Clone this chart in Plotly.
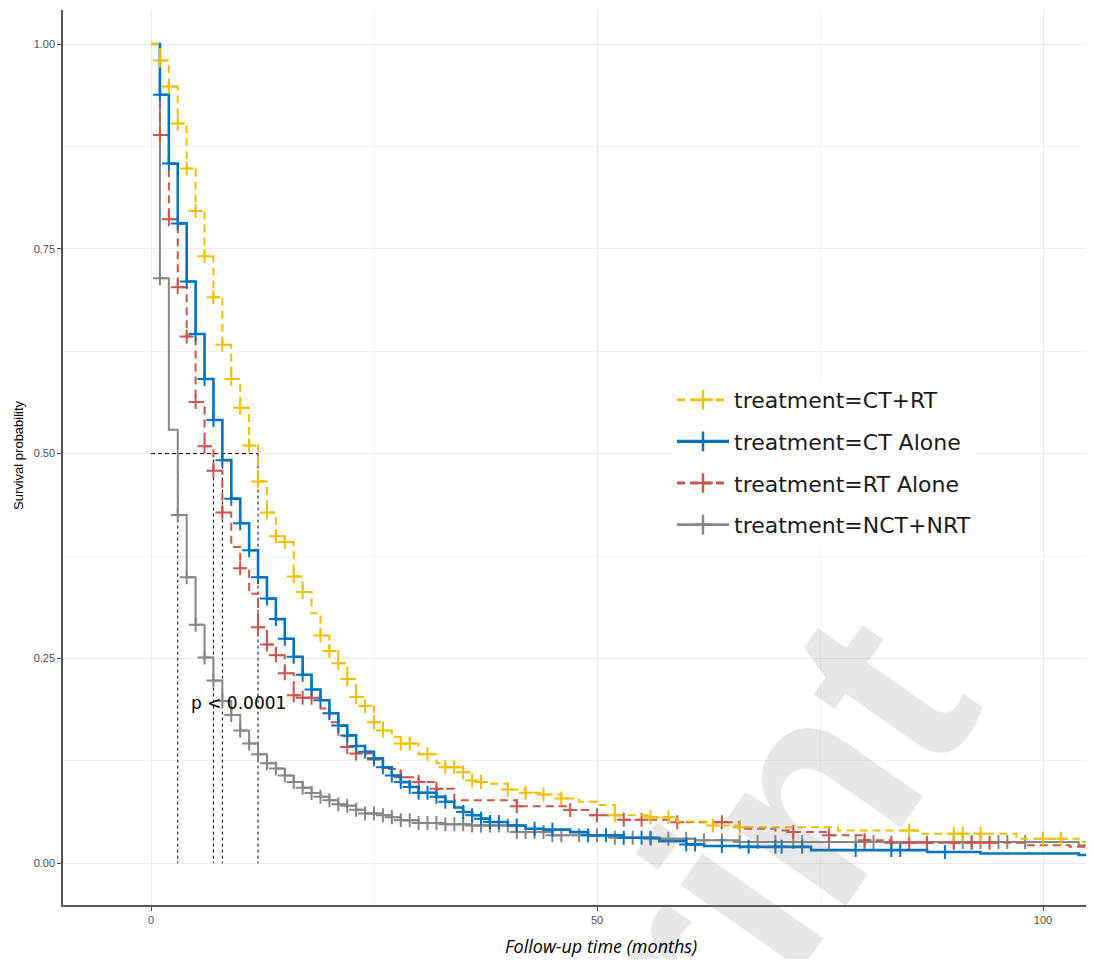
import numpy as np
import plotly.graph_objects as go

# ---------------- data ----------------
names = ["treatment=CT+RT", "treatment=CT Alone", "treatment=RT Alone", "treatment=NCT+NRT"]

ctrt_t = [0, 1, 2, 3, 4, 5, 6, 7, 8, 9, 10, 11, 12, 13, 14, 15, 16, 17, 18, 19, 20, 21, 22, 23,
          24, 25, 26, 27, 28, 30, 32, 33, 35, 36, 37, 38, 40, 42, 44, 46, 48, 50, 52, 56, 59, 63,
          66, 77, 86, 97, 104]
ctrt_s = [1.0, 0.98, 0.948, 0.903, 0.848, 0.796, 0.741, 0.691, 0.633, 0.591, 0.556, 0.510, 0.466,
          0.428, 0.399, 0.392, 0.350, 0.331, 0.305, 0.278, 0.259, 0.244, 0.225, 0.203, 0.192, 0.172,
          0.162, 0.154, 0.146, 0.133, 0.122, 0.117, 0.111, 0.101, 0.099, 0.097, 0.090, 0.086, 0.084,
          0.079, 0.075, 0.071, 0.0586, 0.056, 0.051, 0.046, 0.044, 0.040, 0.036, 0.030, 0.026]
ctrt_cens = [1, 2, 3, 4, 5, 6, 7, 8, 9, 10, 11, 12, 13, 14, 15, 16, 17, 19, 20, 21, 22, 23, 24, 25,
             26, 28, 29, 31, 33, 34, 35, 36, 37, 40, 42, 44, 46, 52, 56, 58, 63, 66, 85, 90, 91, 93,
             100, 102]

cta_t = [0, 1, 2, 3, 4, 5, 6, 7, 8, 9, 10, 11, 12, 13, 14, 15, 16, 17, 18, 19, 20, 21, 22, 23, 24,
         25, 26, 27, 28, 29, 30, 32, 33, 34, 35, 36, 37, 38, 40, 42, 44, 47, 49, 53, 57, 60, 62,
         66, 74, 87, 93, 104]
cta_s = [1.0, 0.938, 0.854, 0.781, 0.710, 0.646, 0.591, 0.541, 0.492, 0.445, 0.415, 0.382, 0.349,
         0.323, 0.298, 0.274, 0.252, 0.230, 0.212, 0.199, 0.183, 0.168, 0.156, 0.143, 0.136, 0.128,
         0.117, 0.107, 0.099, 0.093, 0.086, 0.081, 0.075, 0.068, 0.0625, 0.0586, 0.0544, 0.0503,
         0.046, 0.042, 0.041, 0.038, 0.034, 0.031, 0.027, 0.023, 0.021, 0.020, 0.016, 0.0137,
         0.0118, 0.010]
cta_cens = [1, 2, 3, 4, 5, 6, 7, 8, 9, 10, 11, 12, 13, 14, 15, 16, 17, 18, 19, 20, 21, 22, 23, 24,
            25, 26, 27, 28, 29, 30, 31, 32, 33, 35, 36, 37, 38, 39, 41, 43, 45, 49, 51, 53, 55, 56,
            60, 61, 64, 67, 70, 70.7, 73, 79, 83, 84, 89]

rta_t = [0, 1, 2, 3, 4, 5, 6, 7, 8, 9, 10, 11, 12, 13, 14, 15, 16, 17, 19, 20, 21, 22, 23, 25, 26,
         28, 30, 32, 34, 41, 47, 49, 53, 59, 66, 70, 72, 76, 80, 83, 98, 103]
rta_s = [1.0, 0.889, 0.786, 0.703, 0.643, 0.563, 0.509, 0.479, 0.428, 0.386, 0.360, 0.329, 0.288,
         0.267, 0.254, 0.232, 0.205, 0.202, 0.189, 0.172, 0.155, 0.142, 0.134, 0.1265, 0.115, 0.105,
         0.099, 0.091, 0.077, 0.0696, 0.065, 0.0586, 0.053, 0.050, 0.042, 0.040, 0.038, 0.034,
         0.028, 0.025, 0.022, 0.020]
rta_cens = [1, 2, 3, 4, 5, 6, 7, 8, 10, 12, 13, 14, 15, 16, 17, 18, 22, 23, 25, 28, 30, 32, 41, 47,
            50, 53, 55, 59, 64, 72, 76, 80, 83, 85, 87, 90, 92, 94]

nct_t = [0, 1, 2, 3, 4, 5, 6, 7, 8, 9, 10, 11, 12, 13, 14, 15, 16, 17, 18, 19, 20, 21, 22, 23, 24,
         26, 27, 28, 30, 33, 36, 41, 45, 52, 56, 61, 66, 104]
nct_s = [1.0, 0.714, 0.529, 0.425, 0.349, 0.291, 0.251, 0.223, 0.198, 0.181, 0.162, 0.146, 0.133,
         0.122, 0.1155, 0.107, 0.099, 0.092, 0.0857, 0.081, 0.077, 0.072, 0.070, 0.0654, 0.0606,
         0.0586, 0.056, 0.0525, 0.049, 0.0475, 0.046, 0.038, 0.034, 0.031, 0.030, 0.028, 0.026,
         0.022]
nct_cens = [1, 3, 4, 5, 6, 7, 8, 9, 10, 11, 12, 13, 14, 15, 16, 17, 18, 19, 20, 21, 22, 23, 24, 25,
            26, 27, 28, 29, 30, 31, 32, 33, 34, 35, 36, 37, 38, 39, 40, 41, 42, 43, 44, 45, 46, 48,
            50, 52, 54, 56, 58, 60, 62, 64, 66, 68, 70, 72, 73, 76, 79, 80, 81, 90, 91, 92, 93, 95,
            96, 98]

followup_end = 106
p_text = "p < 0.0001"
x_ticks = [0, 50, 100]
y_ticks = [0, 0.25, 0.5, 0.75, 1.0]

series = [
    (ctrt_t, ctrt_s, ctrt_cens),
    (cta_t, cta_s, cta_cens),
    (rta_t, rta_s, rta_cens),
    (nct_t, nct_s, nct_cens),
]

# ---------------- styles / geometry ----------------
colors = ["#EFC000", "#0073C2", "#CD534C", "#868686"]
dashes = ["8px,5px", "solid", "8px,5px", "solid"]
widths = [2.0, 2.6, 2.0, 2.0]
FONT = "Liberation Sans, Arial, sans-serif"
WIDE = "DejaVu Sans, sans-serif"

# the page body has an 8px margin; figure sized so nothing overflows
FIG_W, FIG_H = 1078, 951
ML, MR, MT, MB = 55, 0, 2, 54
PLOT_L, PLOT_T = 8 + ML, 8 + MT          # absolute page pixels
PLOT_W, PLOT_H = FIG_W - ML - MR, FIG_H - MT - MB


def px(xabs):
    return (xabs - PLOT_L) / PLOT_W


def py(yabs):
    return 1 - (yabs - PLOT_T) / PLOT_H


def surv_at(times, surv, t):
    idx = np.searchsorted(np.asarray(times, float), t, side="right") - 1
    return np.asarray(surv, float)[idx]


fig = go.Figure()

# watermark
fig.add_annotation(text="<b>Preprint</b>", xref="paper", yref="paper", x=px(600), y=py(1090),
                   xanchor="center", yanchor="middle", showarrow=False, textangle=-55,
                   font=dict(size=280, family=FONT, color="rgba(130,130,130,0.19)"))

# medians
medians = []
for t, s, _ in series:
    s_arr = np.asarray(s)
    medians.append(float(np.asarray(t)[np.argmax(s_arr <= 0.5)]))

fig.add_trace(go.Scatter(x=[0, max(medians)], y=[0.5, 0.5], mode="lines",
                         line=dict(color="black", width=1, dash="4px,3px"),
                         showlegend=False, hoverinfo="skip"))
for m in medians:
    fig.add_trace(go.Scatter(x=[m, m], y=[0.5, 0], mode="lines",
                             line=dict(color="black", width=1, dash="3px,3px"),
                             showlegend=False, hoverinfo="skip"))

order = [3, 2, 1, 0]
for i in order:
    t, s, c = series[i]
    fig.add_trace(go.Scatter(x=list(t) + [followup_end], y=list(s) + [s[-1]], mode="lines",
                             line=dict(color=colors[i], width=widths[i], dash=dashes[i], shape="hv"),
                             showlegend=False, hoverinfo="skip"))
    fig.add_trace(go.Scatter(x=c, y=surv_at(t, s, c), mode="markers",
                             marker=dict(symbol="cross-thin", size=10,
                                         line=dict(color=colors[i], width=2)),
                             showlegend=False, hoverinfo="skip"))

# legend entries
for i in range(4):
    fig.add_trace(go.Scatter(x=[None], y=[None], mode="lines+markers", name=names[i],
                             legendgroup=names[i],
                             line=dict(color=colors[i], width=widths[i] + 0.8, dash=dashes[i]),
                             marker=dict(symbol="cross-thin", size=14,
                                         line=dict(color=colors[i], width=2.5))))

fig.add_annotation(text=p_text, x=4.3, y=0.195, xref="x", yref="y", xanchor="left",
                   showarrow=False, font=dict(size=17, family=WIDE, color="black"))

fig.add_annotation(text="<i>Follow-up time (months)</i>", xref="paper", yref="paper",
                   x=px(601), y=py(946), xanchor="center", yanchor="middle", showarrow=False,
                   font=dict(size=18, family="Open Sans, Lato, sans-serif", color="black"))
fig.add_annotation(text="Survival probability", xref="paper", yref="paper",
                   x=px(18), y=py(455), xanchor="center", yanchor="middle", textangle=-90,
                   showarrow=False, font=dict(size=13, family=FONT, color="black"))

x_lo = -(151 - PLOT_L) / 8.92
x_hi = (PLOT_L + PLOT_W - 151) / 8.92

fig.update_layout(
    width=FIG_W, height=FIG_H,
    margin=dict(l=ML, r=MR, t=MT, b=MB),
    plot_bgcolor="white", paper_bgcolor="white",
    font=dict(family=FONT),
    legend=dict(x=px(672), y=py(379), xanchor="left", yanchor="top", bgcolor="white",
                font=dict(size=22, family=WIDE, color="#1a1a1a"),
                tracegroupgap=10, itemwidth=52),
    xaxis=dict(range=[x_lo, x_hi], tickvals=x_ticks, showline=True, linecolor="#555555",
               linewidth=1.5, ticks="outside", ticklen=4, tickwidth=1.3, tickcolor="#444444",
               tickfont=dict(size=11, color="#4D4D4D"), showgrid=True, gridcolor="#EBEBEB",
               gridwidth=1, zeroline=False,
               minor=dict(dtick=25, tick0=0, showgrid=True, gridcolor="#F3F3F3", gridwidth=1)),
    yaxis=dict(range=[-0.051, 1.0415], tickvals=y_ticks, tickformat=".2f", showline=True,
               linecolor="#555555", linewidth=1.5, ticks="outside", ticklen=4, tickwidth=1.3,
               tickcolor="#444444", tickfont=dict(size=11, color="#4D4D4D"), showgrid=True,
               gridcolor="#EBEBEB", gridwidth=1, zeroline=False,
               minor=dict(dtick=0.125, tick0=0, showgrid=True, gridcolor="#F3F3F3", gridwidth=1)),
)

fig.write_html("out.html")
